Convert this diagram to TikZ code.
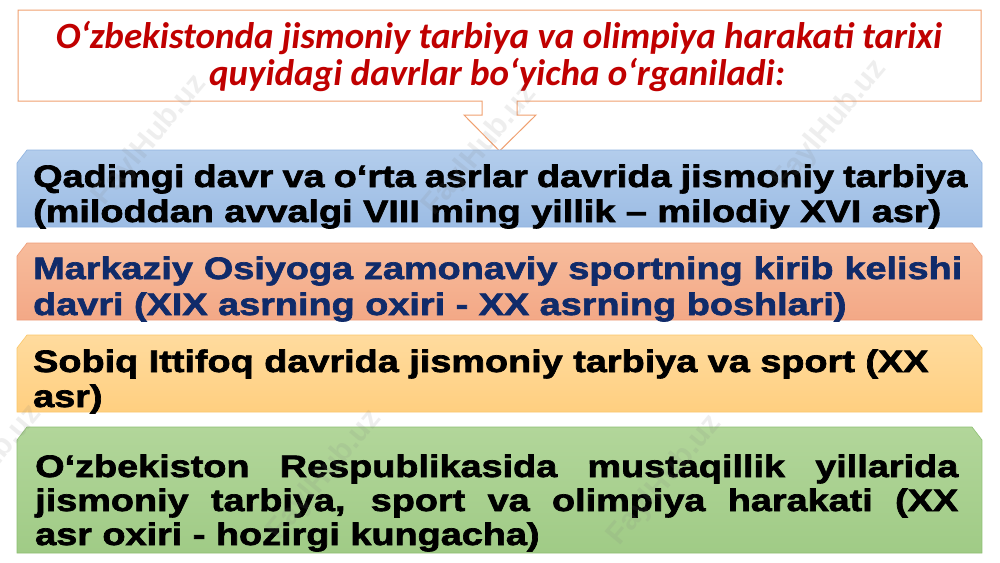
\documentclass[tikz,border=0pt]{standalone}
\usepackage{fontspec}
\setmainfont{Liberation Sans}
\newfontfamily\bandfont[FakeStretch=1.22,FakeBold=2.2]{Liberation Sans Bold}
\newfontfamily\titlefont{Carlito}
\definecolor{titlered}{HTML}{C00000}
\definecolor{calloutline}{HTML}{F0A070}
\definecolor{navy}{HTML}{102B6A}
\definecolor{blueT}{HTML}{B3CDEC}
\definecolor{blueB}{HTML}{9CBCE4}
\definecolor{blueL}{HTML}{8FB3E0}
\definecolor{salT}{HTML}{F7BC9C}
\definecolor{salB}{HTML}{F3A886}
\definecolor{salL}{HTML}{EE9C78}
\definecolor{yelT}{HTML}{FFDB9E}
\definecolor{yelB}{HTML}{FFCF80}
\definecolor{yelL}{HTML}{FAC76A}
\definecolor{grnT}{HTML}{B2D69A}
\definecolor{grnB}{HTML}{A0CB86}
\definecolor{grnL}{HTML}{8DBF72}
\newcommand\bandshape[2]{(17,#2) -- (17,{#1+13}) -- (27,#1) -- (972,#1) -- (982,{#1+13}) -- (982,#2) -- cycle}
\begin{document}
\begin{tikzpicture}[x=1pt,y=-1pt,
  titletext/.style={font=\titlefont\bfseries\itshape\fontsize{37}{39}\selectfont, text=titlered, inner sep=0pt},
  bandtext/.style={font=\bandfont\fontsize{31}{35}\selectfont, inner sep=0pt, anchor=base west},
  wm/.style={font=\bfseries\fontsize{30}{30}\selectfont, text=gray, opacity=0.13, rotate=50, inner sep=0pt}]
\useasboundingbox (0,0) rectangle (1000,562);
\fill[white] (0,0) rectangle (1000,562);
% callout
\draw[calloutline, line width=1pt, fill=white]
  (18,10) -- (981,10) -- (981,101) -- (517,101) -- (517,115) -- (536,115)
  -- (499.5,151) -- (464,115) -- (482,115) -- (482,101) -- (18,101) -- cycle;
\node[titletext, anchor=base] (title1) at (499,48) {O‘zbekistonda jismoniy tarbiya va olimpiya harakati tarixi};
\node[titletext, anchor=base] (title2) at (497,85) {quyidagi davrlar bo‘yicha o‘rganiladi:};
% bands
\shade[top color=blueT, bottom color=blueB, draw=blueL, line width=0.6pt] \bandshape{150}{227};
\shade[top color=salT, bottom color=salB, draw=salL, line width=0.6pt] \bandshape{243}{320};
\shade[top color=yelT, bottom color=yelB, draw=yelL, line width=0.6pt] \bandshape{335}{412};
\shade[top color=grnT, bottom color=grnB, draw=grnL, line width=0.6pt] \bandshape{427}{553};
% band texts
\node[bandtext] (b1a) at (33,187) {\makebox[934pt][s]{Qadimgi davr va o‘rta asrlar davrida jismoniy tarbiya}};
\node[bandtext] (b1b) at (33,222) {(miloddan avvalgi VIII ming yillik – milodiy XVI asr)};
\node[bandtext, text=navy] (b2a) at (33,279) {\makebox[929pt][s]{Markaziy Osiyoga zamonaviy sportning kirib kelishi}};
\node[bandtext, text=navy] (b2b) at (33,315) {davri (XIX asrning oxiri - XX asrning boshlari)};
\node[bandtext] (b3a) at (33,372) {Sobiq Ittifoq davrida jismoniy tarbiya va sport (XX};
\node[bandtext] (b3b) at (33,407) {asr)};
\node[bandtext] (b4a) at (35,477) {\makebox[923pt][s]{O‘zbekiston Respublikasida mustaqillik yillarida}};
\node[bandtext] (b4b) at (35,511) {\makebox[923pt][s]{jismoniy tarbiya, sport va olimpiya harakati (XX}};
\node[bandtext] (b4c) at (35,545) {asr oxiri - hozirgi kungacha)};
% watermarks
\node[wm] (w1) at (150,140) {FaylHub.uz};
\node[wm] (w2) at (480,150) {FaylHub.uz};
\node[wm] (w3) at (830,125) {FaylHub.uz};
\node[wm] (w4) at (-15,470) {FaylHub.uz};
\node[wm] (w5) at (325,475) {FaylHub.uz};
\node[wm] (w6) at (665,480) {FaylHub.uz};
\end{tikzpicture}
\end{document}
